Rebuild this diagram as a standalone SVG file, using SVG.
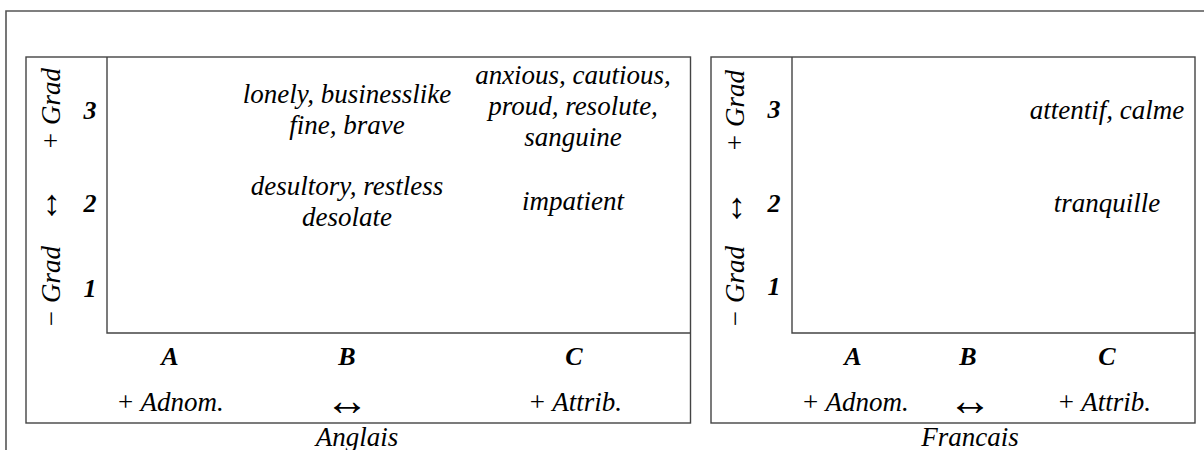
<svg xmlns="http://www.w3.org/2000/svg" width="1204" height="450" viewBox="0 0 1204 450">
<style>
.ln{stroke:#444;stroke-width:1.4;fill:none}
.fr{stroke:#555;stroke-width:1.6;fill:none}
text{font-family:"Liberation Serif","Times New Roman",serif;font-size:27px;fill:#000;text-anchor:middle;font-style:italic}
.b{font-weight:bold;font-size:26px}
.ar{font-style:normal;font-size:36px}
.ah{font-style:normal;font-size:44px}
</style>
<rect width="1204" height="450" fill="#fff"/>
<g id="frame">
<path class="fr" d="M6,450 V11 H1204"/>
</g>
<g id="anglais">
<rect class="ln" x="26" y="57" width="664.5" height="366"/>
<path class="ln" d="M107,57 V333 H690.5"/>
<text transform="translate(60,109) rotate(-90)">+ Grad</text>
<text class="ar" x="52" y="215">↕</text>
<text transform="translate(60,287) rotate(-90)">− Grad</text>
<text class="b" x="90" y="119">3</text>
<text class="b" x="90" y="211.5">2</text>
<text class="b" x="90" y="296.5">1</text>
<text x="347" y="103">lonely, businesslike</text>
<text x="347" y="134">fine, brave</text>
<text x="347" y="195">desultory, restless</text>
<text x="347" y="226">desolate</text>
<text x="573" y="84">anxious, cautious,</text>
<text x="573" y="115">proud, resolute,</text>
<text x="573" y="146">sanguine</text>
<text x="573" y="210">impatient</text>
<text class="b" x="170" y="365">A</text>
<text class="b" x="347" y="365">B</text>
<text class="b" x="574" y="365">C</text>
<text x="170" y="410.5">+ Adnom.</text>
<text class="ah" x="347" y="415">↔</text>
<text x="575" y="410.5">+ Attrib.</text>
<text x="357" y="446">Anglais</text>
</g>
<g id="francais">
<rect class="ln" x="711" y="57" width="484" height="366"/>
<path class="ln" d="M792,57 V333 H1195"/>
<text transform="translate(744,111) rotate(-90)">+ Grad</text>
<text class="ar" x="737" y="218">↕</text>
<text transform="translate(744,287) rotate(-90)">− Grad</text>
<text class="b" x="774" y="118">3</text>
<text class="b" x="774" y="212">2</text>
<text class="b" x="774" y="295">1</text>
<text x="1107" y="119">attentif, calme</text>
<text x="1107" y="212">tranquille</text>
<text class="b" x="853" y="365">A</text>
<text class="b" x="968" y="365">B</text>
<text class="b" x="1107" y="365">C</text>
<text x="855" y="410.5">+ Adnom.</text>
<text class="ah" x="970" y="415">↔</text>
<text x="1104" y="410.5">+ Attrib.</text>
<text x="970" y="446">Francais</text>
</g>
</svg>
